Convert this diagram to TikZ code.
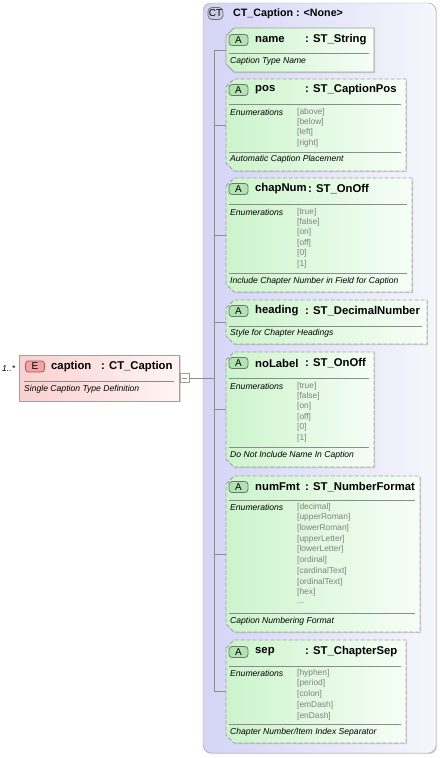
\documentclass[tikz,border=0pt]{standalone}
\usepackage{fontspec}
\setmainfont{Liberation Sans}
\usetikzlibrary{shadows}

\definecolor{ctlav}{RGB}{212,212,246}
\definecolor{ctlight}{RGB}{246,246,252}
\definecolor{attgreen}{RGB}{204,244,204}
\definecolor{attlight}{RGB}{246,254,246}
\definecolor{badgegreen}{RGB}{176,228,176}
\definecolor{elpink}{RGB}{250,208,208}
\definecolor{ellight}{RGB}{255,244,244}
\definecolor{badgered}{RGB}{242,164,164}
\definecolor{framegray}{RGB}{160,160,160}
\definecolor{enumgray}{RGB}{128,128,128}
\definecolor{linegray}{RGB}{140,140,140}

\tikzset{
  boxshadow/.style={drop shadow={shadow xshift=1.2pt, shadow yshift=-1.2pt, opacity=.3}},
  ctframe/.style={draw=framegray, rounded corners=8pt, left color=ctlav, right color=ctlight, boxshadow},
  attframe/.style={draw=framegray, line width=0.8pt, left color=attgreen, right color=attlight, boxshadow},
  optframe/.style={attframe, dash pattern=on 4pt off 2pt},
  elframe/.style={draw=framegray, line width=0.8pt, left color=elpink, right color=ellight, boxshadow,
    minimum width=160pt, minimum height=46pt, inner sep=0pt},
  abadge/.style={draw=gray!90!black, line width=0.8pt, fill=badgegreen, rounded corners=3pt,
    minimum width=19pt, minimum height=11pt, inner sep=0pt, font=\fontsize{10}{10}\selectfont},
  ebadge/.style={abadge, fill=badgered, draw=gray!70!red},
  ctbadge/.style={abadge, fill=ctlav!90!gray, rounded corners=4pt, minimum width=15pt, minimum height=12pt},
  hdr/.style={anchor=west, inner sep=0pt, font=\fontsize{11.3}{13}\selectfont\bfseries},
  desc/.style={anchor=west, inner sep=0pt, font=\fontsize{8.6}{10}\selectfont\itshape},
  enumval/.style={anchor=west, inner sep=0pt, text=enumgray, font=\fontsize{8.4}{10}\selectfont},
  sepline/.style={draw=linegray, line width=0.7pt},
  treeline/.style={draw=linegray, line width=0.8pt},
  foldbox/.style={draw=framegray, fill=white, minimum size=9pt, inner sep=0pt}
}

\begin{document}
\begin{tikzpicture}[x=1pt,y=-1pt]
\useasboundingbox (0,0) rectangle (440,758);

%% complex type frame
\draw[ctframe] (203,3) rectangle (436,753);
\node[ctbadge] (ctB) at (215.5,13.5) {CT};
\node[hdr, font=\fontsize{10.7}{13}\selectfont\bfseries] (ctT) at (233,13.5) {CT\_Caption : <None>};
\coordinate (trunk) at (214,0);

%% name (required, solid)
\draw[attframe] (226,36) -- (234,28) -- (374,28) -- (374,72) -- (234,72) -- (226,64) -- cycle;
\coordinate (name) at (226,50);
\node[abadge] (nameB) at (238.5,40) {A};
\node[hdr] (nameN) at (255,40) {name};
\node[hdr] (nameT) at (305,40) {: ST\_String};
\draw[sepline] (229,53) -- (369,53);
\node[desc] (nameD) at (230,61) {Caption Type Name};

%% pos
\draw[optframe] (226,87) -- (234,79) -- (406,79) -- (406,171) -- (234,171) -- (226,163) -- cycle;
\coordinate (pos) at (226,125);
\node[abadge] (posB) at (238.5,90) {A};
\node[hdr] (posN) at (255,90) {pos};
\node[hdr] (posT) at (305,90) {: ST\_CaptionPos};
\draw[sepline] (229,104) -- (401,104);
\node[desc] (posE) at (230,112) {Enumerations};
\foreach \v [count=\i from 0] in {above,below,left,right}
  \node[enumval] (posV\i) at (297,112+10.4*\i) {[\v]};
\draw[sepline] (229,152) -- (401,152);
\node[desc] (posD) at (230,159) {Automatic Caption Placement};

%% chapNum
\draw[optframe] (226,186) -- (234,178) -- (412,178) -- (412,292) -- (234,292) -- (226,284) -- cycle;
\coordinate (chapnum) at (226,235);
\node[abadge] (chapnumB) at (238.5,189) {A};
\node[hdr] (chapnumN) at (255,189) {chapNum};
\node[hdr] (chapnumT) at (308,189) {: ST\_OnOff};
\draw[sepline] (229,204) -- (407,204);
\node[desc] (chapnumE) at (230,212) {Enumerations};
\foreach \v [count=\i from 0] in {true,false,on,off,0,1}
  \node[enumval] (chapnumV\i) at (297,212+10.4*\i) {[\v]};
\draw[sepline] (229,273) -- (407,273);
\node[desc] (chapnumD) at (230,281) {Include Chapter Number in Field for Caption};

%% heading
\draw[optframe] (226,308) -- (234,300) -- (427,300) -- (427,344) -- (234,344) -- (226,336) -- cycle;
\coordinate (heading) at (226,322);
\node[abadge] (headingB) at (238.5,311) {A};
\node[hdr] (headingN) at (255,311) {heading};
\node[hdr] (headingT) at (305,311) {: ST\_DecimalNumber};
\draw[sepline] (229,326) -- (422,326);
\node[desc] (headingD) at (230,333) {Style for Chapter Headings};

%% noLabel
\draw[optframe] (226,360) -- (234,352) -- (374,352) -- (374,467) -- (234,467) -- (226,459) -- cycle;
\coordinate (nolabel) at (226,409.5);
\node[abadge] (nolabelB) at (238.5,363) {A};
\node[hdr] (nolabelN) at (255,363) {noLabel};
\node[hdr] (nolabelT) at (305,363) {: ST\_OnOff};
\draw[sepline] (229,378) -- (369,378);
\node[desc] (nolabelE) at (230,386) {Enumerations};
\foreach \v [count=\i from 0] in {true,false,on,off,0,1}
  \node[enumval] (nolabelV\i) at (297,386+10.4*\i) {[\v]};
\draw[sepline] (229,447) -- (369,447);
\node[desc] (nolabelD) at (230,455) {Do Not Include Name In Caption};

%% numFmt
\draw[optframe] (226,484) -- (234,476) -- (420,476) -- (420,632) -- (234,632) -- (226,624) -- cycle;
\coordinate (numfmt) at (226,554);
\node[abadge] (numfmtB) at (238.5,487) {A};
\node[hdr] (numfmtN) at (255,487) {numFmt};
\node[hdr] (numfmtT) at (305,487) {: ST\_NumberFormat};
\draw[sepline] (229,500) -- (415,500);
\node[desc] (numfmtE) at (230,507) {Enumerations};
\foreach \v [count=\i from 0] in {decimal,upperRoman,lowerRoman,upperLetter,lowerLetter,ordinal,cardinalText,ordinalText,hex}
  \node[enumval] (numfmtV\i) at (297,507+10.7*\i) {[\v]};
\node[enumval] (numfmtMore) at (297,603) {...};
\draw[sepline] (229,613) -- (415,613);
\node[desc] (numfmtD) at (230,621) {Caption Numbering Format};

%% sep
\draw[optframe] (226,648) -- (234,640) -- (406,640) -- (406,743) -- (234,743) -- (226,735) -- cycle;
\coordinate (sep) at (226,691.5);
\node[abadge] (sepB) at (238.5,652) {A};
\node[hdr] (sepN) at (255,652) {sep};
\node[hdr] (sepT) at (305,652) {: ST\_ChapterSep};
\draw[sepline] (229,666) -- (401,666);
\node[desc] (sepE) at (230,673) {Enumerations};
\foreach \v [count=\i from 0] in {hyphen,period,colon,emDash,enDash}
  \node[enumval] (sepV\i) at (297,673+10.8*\i) {[\v]};
\draw[sepline] (229,724) -- (401,724);
\node[desc] (sepD) at (230,732) {Chapter Number/Item Index Separator};

%% tree lines
\draw[treeline] (name -| trunk) -- (sep -| trunk);
\foreach \a in {name,pos,chapnum,heading,nolabel,numfmt,sep}
  \draw[treeline] (\a -| trunk) -- (\a);

%% caption element
\node[elframe] (caption) at (99.5,378) {};
\node[ebadge] (captionB) at (35,366.5) {E};
\node[hdr] (captionN) at (51,367) {caption};
\node[hdr] (captionT) at (101,367) {: CT\_Caption};
\draw[sepline] (24,381) -- (174,381);
\node[desc] (captionD) at (24,389) {Single Caption Type Definition};
\node[desc] (captionM) at (2,369) {1..*};
\node[foldbox] (captionF) at (184.5,378) {};
\draw[linegray] ([xshift=2pt]captionF.west) -- ([xshift=-2pt]captionF.east);
\draw[treeline] (captionF.east) -- (captionF.east -| trunk);

\end{tikzpicture}
\end{document}
